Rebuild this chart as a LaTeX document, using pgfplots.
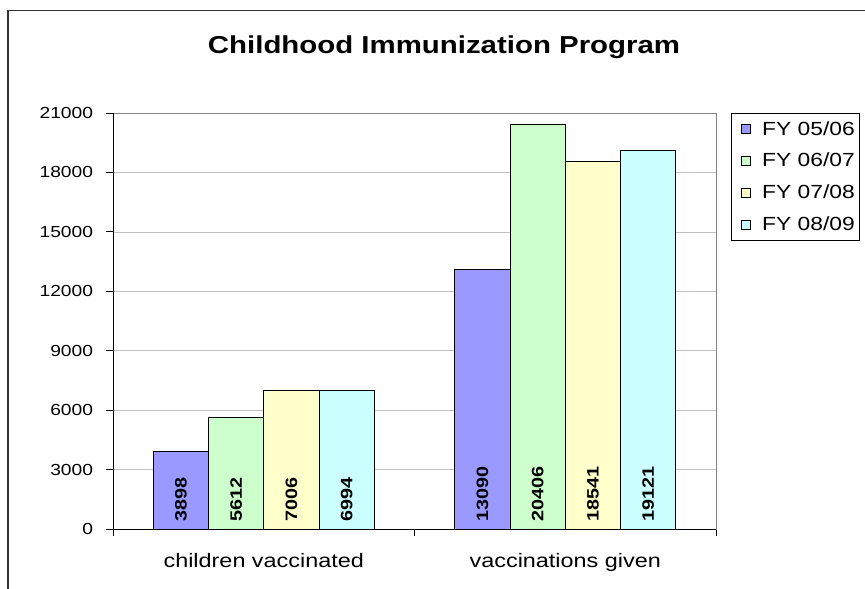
\documentclass[border=0pt]{standalone}
\usepackage{pgfplots}
\pgfplotsset{compat=1.18}
\usepackage{fontspec}
\setmainfont{Liberation Sans}[FakeStretch=1.2]
\definecolor{c1}{HTML}{9999FF}
\definecolor{c2}{HTML}{CCFFCC}
\definecolor{c3}{HTML}{FFFFCC}
\definecolor{c4}{HTML}{CCFFFF}
\definecolor{gridc}{HTML}{C0C0C0}
\definecolor{borderc}{HTML}{808080}
\begin{document}
\begin{tikzpicture}[x=1pt,y=1pt]
\useasboundingbox (0,0) rectangle (865,589);
\draw[line width=1.5pt, black!80] (8,0) -- (8,578.5) -- (865,578.5);
\node[anchor=base, font=\fontsize{24.5}{28}\selectfont\bfseries] at (444,535) {Childhood Immunization Program};
\begin{axis}[
  name=ax,
  at={(113pt,60pt)}, anchor=south west,
  width=603pt, height=416pt, scale only axis,
  xmin=-0.5, xmax=1.5, ymin=0, ymax=21000,
  xtick={0,1}, xticklabels={children vaccinated, vaccinations given},
  minor xtick={-0.5,0.5,1.5},
  ytick={0,3000,...,21000},
  scaled y ticks=false,
  /pgf/number format/1000 sep={},
  /pgf/number format/assume math mode=true,
  tick align=outside,
  xtick pos=bottom, ytick pos=left,
  major x tick style={draw=none},
  minor x tick style={black, line width=0.8pt},
  major y tick style={black, line width=0.8pt},
  major tick length=7pt, minor tick length=7pt,
  ymajorgrids, major grid style={gridc, line width=0.6pt},
  axis line style={borderc, line width=0.8pt},
  yticklabel style={font=\fontsize{16}{19}\selectfont, anchor=east, xshift=-9.5pt},
  xticklabel style={font=\fontsize{19.5}{23}\selectfont, anchor=base, yshift=-31pt},
  ybar, bar width=55.25pt,
  legend style={at={(axis description cs:1.0249,1)}, anchor=north west, draw=black, line width=0.8pt, fill=white,
    font=\fontsize{19}{22}\selectfont, row sep=12.5pt, inner xsep=3pt, inner ysep=6pt},
  legend cell align=left,
  legend image code/.code={\path (-6pt,0pt) (19pt,0pt);\draw[#1, draw=black, line width=0.6pt] (0pt,-4.5pt) rectangle (9pt,4.5pt);},
  lab/.style={draw=none, fill=none, forget plot, point meta=explicit, nodes near coords,
    every node near coord/.append style={yshift=7pt, rotate=90, anchor=west, inner sep=0pt,
      font=\fontsize{16.5}{19}\selectfont\bfseries, black}},
]
\addplot[draw=black, line width=0.8pt, fill=c1, bar shift=-82.9pt] coordinates {(0,3898) (1,13090)};
\addplot[draw=black, line width=0.8pt, fill=c2, bar shift=-27.6pt] coordinates {(0,5612) (1,20406)};
\addplot[draw=black, line width=0.8pt, fill=c3, bar shift=27.6pt] coordinates {(0,7006) (1,18541)};
\addplot[draw=black, line width=0.8pt, fill=c4, bar shift=82.9pt] coordinates {(0,6994) (1,19121)};
\legend{FY 05/06, FY 06/07, FY 07/08, FY 08/09}
\addplot[lab, bar shift=-82.9pt] coordinates {(0,0) [3898] (1,0) [13090]};
\addplot[lab, bar shift=-27.6pt] coordinates {(0,0) [5612] (1,0) [20406]};
\addplot[lab, bar shift=27.6pt] coordinates {(0,0) [7006] (1,0) [18541]};
\addplot[lab, bar shift=82.9pt] coordinates {(0,0) [6994] (1,0) [19121]};
\end{axis}
\draw[black, line width=0.8pt] (ax.north west) -- (ax.south west) -- (ax.south east);
\end{tikzpicture}
\end{document}
